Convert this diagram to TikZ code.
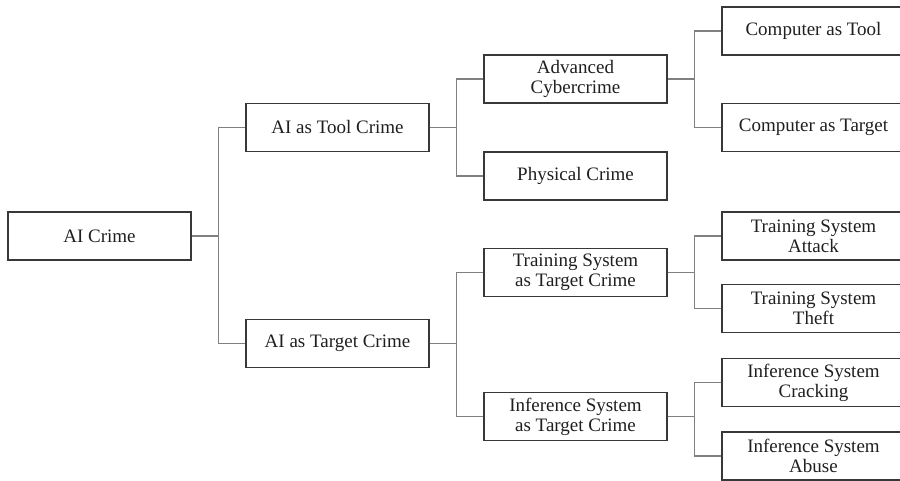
\documentclass[tikz,border=0pt]{standalone}
\usepackage{fontspec}
\setmainfont{Liberation Serif}
\begin{document}
\begin{tikzpicture}[x=1pt,y=-1pt,
  box/.style={draw=black!78, line width=1.5pt, rectangle, minimum width=183pt, minimum height=48pt,
    inner sep=2pt, align=center, text=black!88, font=\fontsize{19}{20}\selectfont},
  link/.style={draw=black!50, line width=1.3pt}]
\useasboundingbox (0,0) rectangle (900,481);
\clip (0,0) rectangle (900,481);
\node[box] (root) at (99.5,236) {AI Crime};
\node[box] (tool) at (337.5,127.5) {AI as Tool Crime};
\node[box] (target) at (337.5,343.5) {AI as Target Crime};
\node[box] (adv) at (575.5,79) {Advanced\\Cybercrime};
\node[box] (phys) at (575.5,176) {Physical Crime};
\node[box] (train) at (575.5,272.5) {Training System\\as Target Crime};
\node[box] (inf) at (575.5,416.5) {Inference System\\as Target Crime};
\node[box] (ctool) at (813.5,31) {Computer as Tool};
\node[box] (ctarget) at (813.5,127.5) {Computer as Target};
\node[box] (tatt) at (813.5,236) {Training System\\Attack};
\node[box] (ttheft) at (813.5,308.5) {Training System\\Theft};
\node[box] (icrack) at (813.5,382.5) {Inference System\\Cracking};
\node[box] (iabuse) at (813.5,456) {Inference System\\Abuse};
\draw[link] (root.east) -- ++(27,0) coordinate (j0) |- (tool.west);
\draw[link] (j0) |- (target.west);
\draw[link] (tool.east) -- ++(27,0) coordinate (j1) |- (adv.west);
\draw[link] (j1) |- (phys.west);
\draw[link] (target.east) -- ++(27,0) coordinate (j2) |- (train.west);
\draw[link] (j2) |- (inf.west);
\draw[link] (adv.east) -- ++(27,0) coordinate (j3) |- (ctool.west);
\draw[link] (j3) |- (ctarget.west);
\draw[link] (train.east) -- ++(27,0) coordinate (j4) |- (tatt.west);
\draw[link] (j4) |- (ttheft.west);
\draw[link] (inf.east) -- ++(27,0) coordinate (j5) |- (icrack.west);
\draw[link] (j5) |- (iabuse.west);
\end{tikzpicture}
\end{document}
